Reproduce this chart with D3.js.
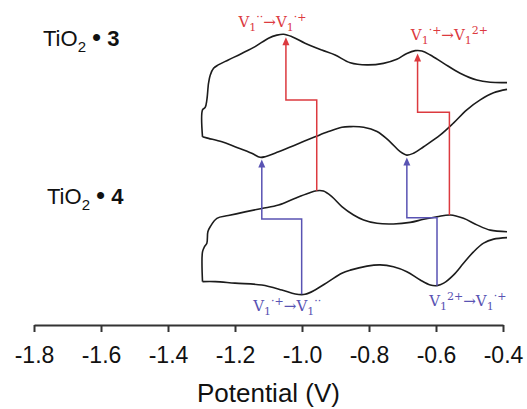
<!DOCTYPE html>
<html>
<head>
<meta charset="utf-8">
<script src="https://cdn.jsdelivr.net/npm/d3@7/dist/d3.min.js"></script>
<style>
  body { margin: 0; background: #fff; }
  svg { display: block; }
</style>
</head>
<body>
<div id="chart"></div>
<script>
// Potential axis
var tickValues = [-1.8, -1.6, -1.4, -1.2, -1.0, -0.8, -0.6, -0.4];
var tickLabels = ["-1.8", "-1.6", "-1.4", "-1.2", "-1.0", "-0.8", "-0.6", "-0.4"];

// TiO2 • 3 voltammogram [potential (V), current (a.u.)]
var cv3Forward = [
  [-1.297, 60.7], [-1.297, 69.4], [-1.289, 70.2], [-1.284, 72.6], [-1.279, 78.0],
  [-1.274, 80.6], [-1.264, 82.8], [-1.250, 83.9], [-1.220, 85.5], [-1.180, 87.6],
  [-1.140, 89.8], [-1.100, 92.5], [-1.075, 93.5], [-1.055, 93.8], [-1.030, 93.0],
  [-0.991, 90.9], [-0.941, 88.7], [-0.901, 87.1], [-0.856, 84.6], [-0.806, 83.9],
  [-0.757, 84.4], [-0.717, 85.7], [-0.687, 87.6], [-0.662, 88.5], [-0.642, 88.4],
  [-0.617, 87.1], [-0.577, 84.4], [-0.528, 81.2], [-0.478, 79.0], [-0.438, 78.3],
  [-0.388, 78.2]
];
var cv3Reverse = [
  [-0.388, 76.0], [-0.428, 74.9], [-0.468, 72.6], [-0.508, 69.4], [-0.548, 65.1],
  [-0.587, 61.3], [-0.637, 57.5], [-0.667, 55.4], [-0.687, 54.8], [-0.707, 55.9],
  [-0.737, 59.1], [-0.776, 62.4], [-0.816, 63.8], [-0.856, 64.0], [-0.881, 63.8],
  [-0.921, 62.4], [-0.961, 60.7], [-1.020, 58.1], [-1.070, 55.9], [-1.110, 54.3],
  [-1.125, 54.1], [-1.150, 55.4], [-1.200, 57.5], [-1.239, 59.1], [-1.279, 60.2],
  [-1.297, 60.7]
];

// TiO2 • 4 voltammogram
var cv4Forward = [
  [-1.297, 14.0], [-1.297, 23.6], [-1.291, 25.3], [-1.284, 26.4], [-1.281, 30.1],
  [-1.274, 31.7], [-1.254, 34.4], [-1.220, 35.3], [-1.170, 36.5], [-1.120, 37.6],
  [-1.070, 38.7], [-1.020, 40.9], [-0.981, 42.5], [-0.956, 43.3], [-0.936, 43.2],
  [-0.911, 41.4], [-0.881, 38.2], [-0.846, 35.5], [-0.816, 33.9], [-0.776, 32.8],
  [-0.727, 32.6], [-0.677, 33.1], [-0.637, 34.1], [-0.597, 34.9], [-0.557, 35.5],
  [-0.518, 34.4], [-0.478, 32.3], [-0.438, 30.6], [-0.388, 30.1]
];
var cv4Reverse = [
  [-0.388, 28.2], [-0.428, 27.7], [-0.458, 26.4], [-0.488, 23.6], [-0.518, 19.9],
  [-0.548, 16.1], [-0.577, 13.5], [-0.597, 12.7], [-0.617, 12.9], [-0.647, 14.5],
  [-0.687, 17.2], [-0.727, 18.8], [-0.767, 19.4], [-0.806, 19.0], [-0.856, 17.7],
  [-0.881, 16.7], [-0.921, 14.0], [-0.961, 11.3], [-0.991, 9.9], [-1.020, 10.0],
  [-1.060, 11.3], [-1.120, 12.9], [-1.200, 13.5], [-1.259, 14.0], [-1.297, 14.0]
];

var sampleNames = ["3", "4"];

// peak shifts between the two samples: start, step level, end
var oxidationArrows = [
  { v0: -0.956, i0: 43.3, step: 72.6, v1: -1.048, i1: 92.8 },
  { v0: -0.560, i0: 35.5, step: 68.6, v1: -0.655, i1: 87.6 }
];
var reductionArrows = [
  { v0: -1.001, i0: 9.9, step: 34.2, v1: -1.120, i1: 53.4 },
  { v0: -0.597, i0: 12.7, step: 34.6, v1: -0.687, i1: 54.0 }
];

// redox labels: [text, sub/sup flag]
var oxidationLabels = [
  { v: -1.088, i: 96.1, parts: [["V", 0], ["1", -1], ["\u00b7\u00b7", 1], ["\u2192", 0], ["V", 0], ["1", -1], ["\u00b7+", 1]] },
  { v: -0.560, i: 91.9, parts: [["V", 0], ["1", -1], ["\u00b7+", 1], ["\u2192", 0], ["V", 0], ["1", -1], ["2+", 1]] }
];
var reductionLabels = [
  { v: -1.044, i: 4.5, parts: [["V", 0], ["1", -1], ["\u00b7+", 1], ["\u2192", 0], ["V", 0], ["1", -1], ["\u00b7\u00b7", 1]] },
  { v: -0.505, i: 6.1, parts: [["V", 0], ["1", -1], ["2+", 1], ["\u2192", 0], ["V", 0], ["1", -1], ["\u00b7+", 1]] }
];

var width = 527,
    height = 409;

var red = "#dc3a3f",
    blue = "#5953b3";

var svg = d3.select("#chart").append("svg")
    .attr("width", width)
    .attr("height", height);

var x = d3.scaleLinear()
    .domain([-1.8, -0.4])
    .range([34, 503]);

var y = d3.scaleLinear()
    .domain([0, 100])
    .range([325, 15]);

// Axis
var axis = svg.append("g")
    .attr("transform", "translate(0," + y(0) + ")")
    .call(d3.axisBottom(x)
      .tickValues(tickValues)
      .tickFormat(function(d, i) { return tickLabels[i]; })
      .tickSize(7)
      .tickSizeOuter(0)
      .tickPadding(15));

axis.select(".domain")
    .attr("stroke", "#333")
    .attr("stroke-width", 2);
axis.selectAll(".tick line")
    .attr("stroke", "#333")
    .attr("stroke-width", 2);
axis.selectAll(".tick text")
    .attr("fill", "#111")
    .style("font-family", "Liberation Sans, Arial, sans-serif")
    .style("font-size", "23px");

svg.append("text")
    .attr("x", (x.range()[0] + x.range()[1]) / 2)
    .attr("y", 402)
    .attr("text-anchor", "middle")
    .attr("fill", "#111")
    .style("font-family", "Liberation Sans, Arial, sans-serif")
    .style("font-size", "26px")
    .text("Potential (V)");

// Voltammograms
var line = d3.line()
    .x(function(d) { return x(d[0]); })
    .y(function(d) { return y(d[1]); })
    .curve(d3.curveCatmullRom.alpha(0.5));

var traces = [cv3Forward, cv3Reverse, cv4Forward, cv4Reverse];

svg.append("g")
    .selectAll("path")
    .data(traces)
  .enter().append("path")
    .attr("d", line)
    .attr("fill", "none")
    .attr("stroke", "#1c1c1c")
    .attr("stroke-width", 1.6)
    .attr("stroke-linejoin", "round");

// Arrows
function drawArrows(data, color) {
  var g = svg.append("g");

  g.selectAll(".shaft")
      .data(data)
    .enter().append("path")
      .attr("class", "shaft")
      .attr("fill", "none")
      .attr("stroke", color)
      .attr("stroke-width", 1.5)
      .attr("d", function(d) {
        return "M" + x(d.v0) + "," + y(d.i0) +
               "V" + y(d.step) +
               "H" + x(d.v1) +
               "V" + (y(d.i1) + 6);
      });

  g.selectAll(".head")
      .data(data)
    .enter().append("path")
      .attr("class", "head")
      .attr("fill", color)
      .attr("d", function(d) {
        var tx = x(d.v1), ty = y(d.i1);
        return "M" + tx + "," + ty +
               "L" + (tx + 3.5) + "," + (ty + 8) +
               "L" + (tx - 3.5) + "," + (ty + 8) + "Z";
      });
}

drawArrows(oxidationArrows, red);
drawArrows(reductionArrows, blue);

// Redox labels
function drawLabels(data, color) {
  var text = svg.append("g").selectAll("text")
      .data(data)
    .enter().append("text")
      .attr("x", function(d) { return x(d.v); })
      .attr("y", function(d) { return y(d.i); })
      .attr("text-anchor", "middle")
      .attr("fill", color)
      .style("font-family", "DejaVu Serif, serif")
      .style("font-size", "15px");

  text.each(function(d) {
    var t = d3.select(this),
        shift = 0;
    d.parts.forEach(function(p) {
      var target = p[1] === -1 ? 4 : p[1] === 1 ? -6 : 0;
      t.append("tspan")
          .attr("dy", target - shift)
          .style("font-size", p[1] === 0 ? null : "11px")
          .text(p[0]);
      shift = target;
    });
  });
}

drawLabels(oxidationLabels, red);
drawLabels(reductionLabels, blue);

// Sample names
var names = svg.append("g").selectAll("text")
    .data(sampleNames)
  .enter().append("text")
    .attr("x", function(d, i) { return i === 0 ? 43 : 47; })
    .attr("y", function(d, i) { return i === 0 ? 46 : 204; })
    .attr("fill", "#111")
    .style("font-family", "Liberation Sans, Arial, sans-serif")
    .style("font-size", "22px")
    .style("white-space", "pre");

names.append("tspan").text("TiO");
names.append("tspan")
    .attr("dy", 6)
    .style("font-size", "15px")
    .text("2");
names.append("tspan")
    .attr("dy", -6)
    .text("\u00a0");
names.append("tspan")
    .style("font-size", "26px")
    .text("\u2022");
names.append("tspan")
    .style("font-weight", "bold")
    .text(function(d) { return "\u00a0" + d; });
</script>
</body>
</html>
